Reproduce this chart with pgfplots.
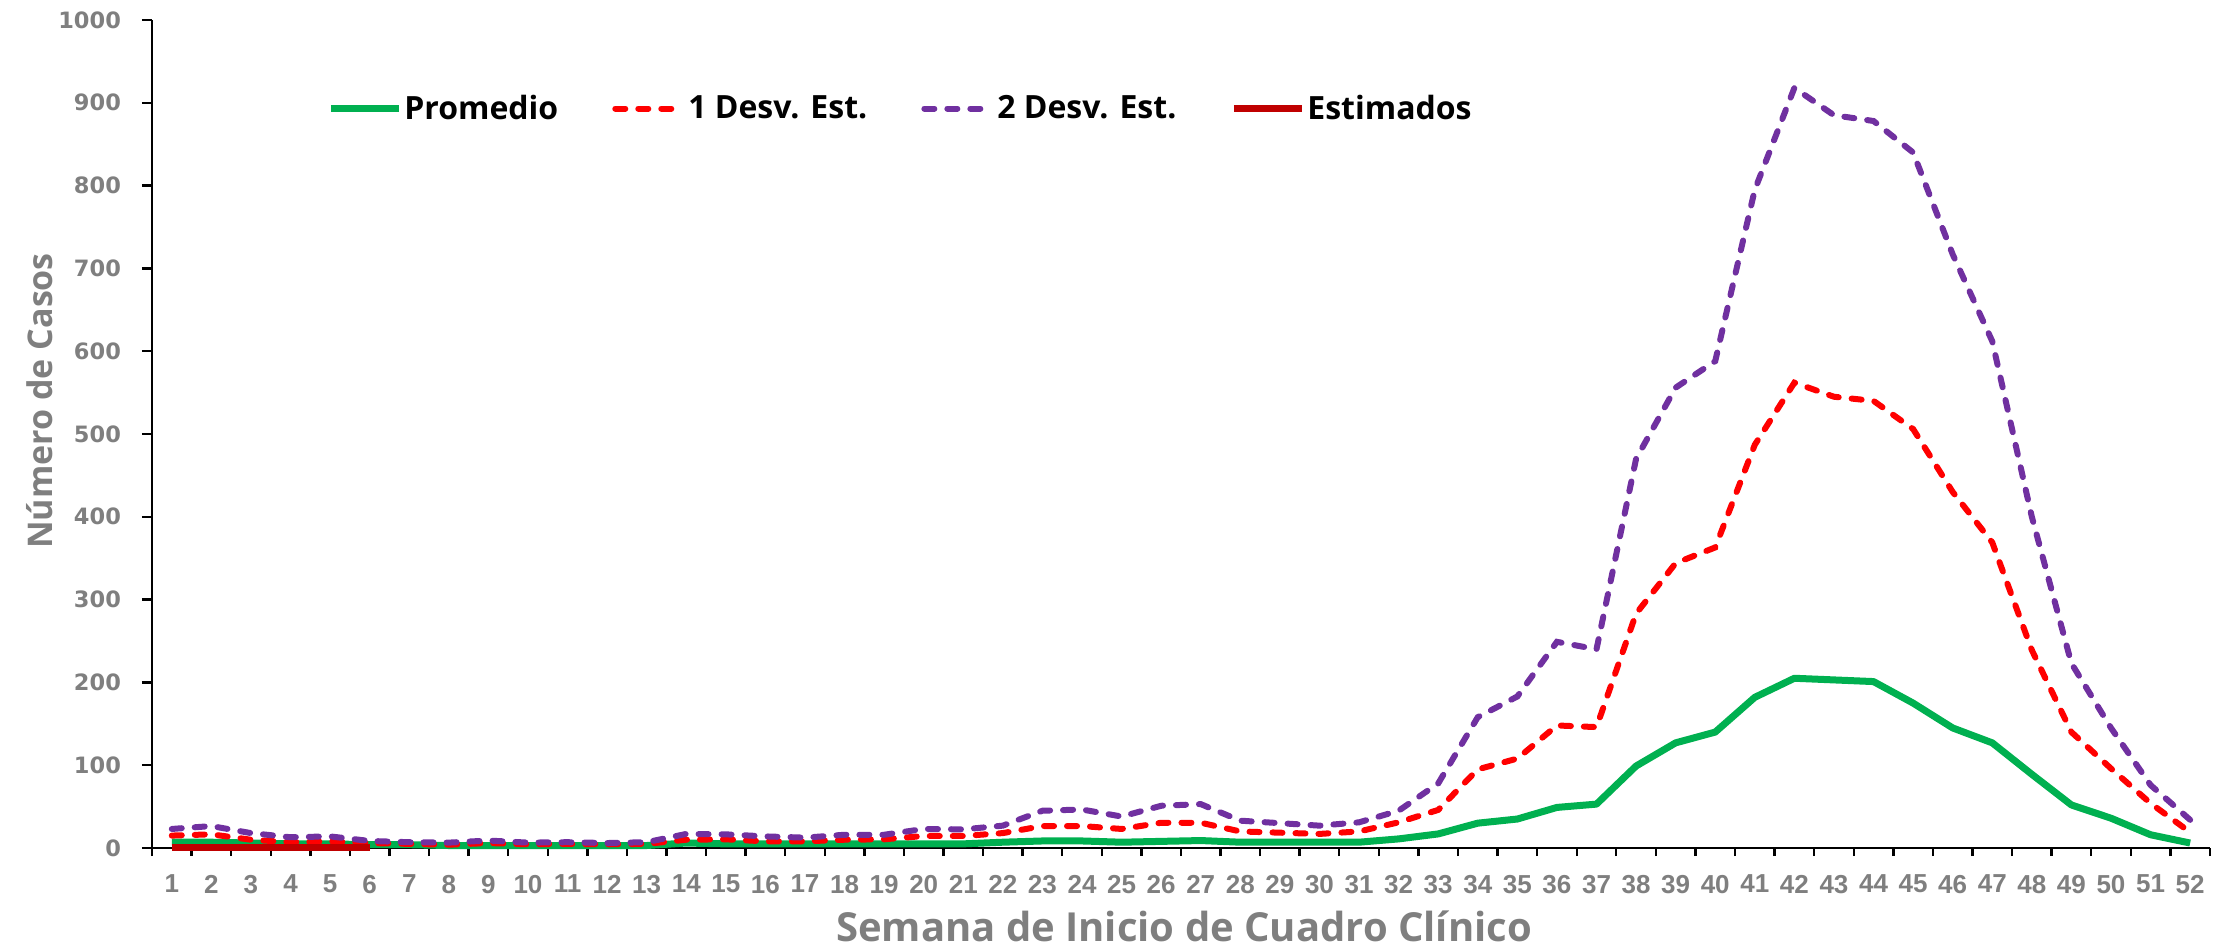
\documentclass[border=0pt]{standalone}
\usepackage{fontspec}
\usepackage{pgfplots}
\usepackage{pgfplotstable}
\pgfplotsset{compat=1.18}
\setmainfont{Open Sans}
\newfontfamily\dvs{DejaVu Sans}
\newfontfamily\lib{Liberation Sans}
\definecolor{cgreen}{HTML}{00B050}
\definecolor{cred}{HTML}{FF0000}
\definecolor{cpurple}{HTML}{7030A0}
\definecolor{cdark}{HTML}{C00000}
\definecolor{cgray}{HTML}{7F7F7F}

\pgfplotstableread{
w prom d1 d2
1 7 15 23
2 7 16.5 26.5
3 6 10 18
4 5 7 13
5 5 8 14
6 4 6 8.5
7 4 5 7
8 3 4 6.5
9 3 6 9
10 3 4.5 6.5
11 3 5 7
12 3 4.5 6
13 3 5 7
14 6 10 17
15 5 10.5 16.5
16 5 8 14
17 5 8 12.5
18 5 10 16
19 5 10.5 16
20 5 14.5 23
21 5 14.5 22.5
22 7 18 27
23 8.5 26.5 45
24 8.5 26.5 46.5
25 7 23 38
26 8 30.5 51
27 9 30.5 53
28 7 20 33
29 7 18.5 30
30 7 17 27
31 7 20 31
32 11 31 45
33 17 46 78
34 30 95 158
35 35 108 183
36 49 148 249
37 53 146 240
38 99 283 470
39 127 344 556
40 140 363 588
41 182 487 795
42 205 562 918
43 203 545 885
44 201 540 878
45 175 506 840
46 145 430 717
47 127 369 612
48 89 239 400
49 52 140 223
50 36 96 145
51 16 54 76
52 6 19 34
}\datatable

\pgfplotstableread{
w est
1 0.5
2 0.5
3 0.5
4 0.5
5 0.5
6 0.5
}\esttable

\begin{document}
\begin{tikzpicture}
\useasboundingbox (0,0) rectangle (1114pt,474.5pt);
\begin{axis}[
  at={(76pt,50.5pt)}, anchor=south west,
  scale only axis, width=1029pt, height=414pt,
  xmin=0.5, xmax=52.5, ymin=0, ymax=1000,
  axis lines=left,
  axis line style={-, line width=1.2pt, black},
  xtick={1,...,52},
  minor xtick={0.5,1.5,...,52.5},
  ytick={0,100,...,1000},
  tick align=outside,
  major tick length=5pt,
  minor tick length=4pt,
  major x tick style={draw=none},
  minor x tick style={line width=1.2pt, black},
  major y tick style={line width=1.2pt, black},
  /pgf/number format/assume math mode=true,
  /pgf/number format/1000 sep={},
  yticklabel style={font=\dvs\bfseries\fontsize{11.25}{13}\selectfont, text=cgray, xshift=-7pt},
  xticklabel style={font=\lib\bfseries\fontsize{13}{15}\selectfont, text=cgray, yshift=-5pt},
  xlabel={Semana de Inicio de Cuadro Clínico},
  ylabel={Número de Casos},
  xlabel style={font=\bfseries\fontsize{20}{24}\selectfont, text=cgray, inner sep=0pt, at={(axis description cs:0.5015,-0.095)}, anchor=center},
  ylabel style={font=\bfseries\fontsize{17}{20}\selectfont, text=cgray, at={(axis description cs:-0.0544,0.54)}, anchor=center},
  legend columns=4,
  legend style={at={(axis description cs:0.085,0.893)}, anchor=west, draw=none, fill=none,
    font=\bfseries\fontsize{16}{19}\selectfont, inner sep=0pt,
    nodes={inner sep=1pt},
    /tikz/every even column/.append style={column sep=26pt}},
  legend image code/.code={\draw[#1] (0pt,0pt) -- (34pt,0pt);},
  clip=false,
]
\addplot[color=cgreen, line width=3.5pt, line join=round] table[x=w, y=prom] {\datatable};
\addlegendentry{Promedio}
\addplot[color=cred, line width=3pt, line cap=round, dash pattern=on 5pt off 6.5pt] table[x=w, y=d1] {\datatable};
\addlegendentry{1 Desv. Est.}
\addplot[color=cpurple, line width=3pt, line cap=round, dash pattern=on 5pt off 6.5pt] table[x=w, y=d2] {\datatable};
\addlegendentry{2 Desv. Est.}
\addplot[color=cdark, line width=3.5pt] table[x=w, y=est] {\esttable};
\addlegendentry{Estimados}
\end{axis}
\end{tikzpicture}
\end{document}
